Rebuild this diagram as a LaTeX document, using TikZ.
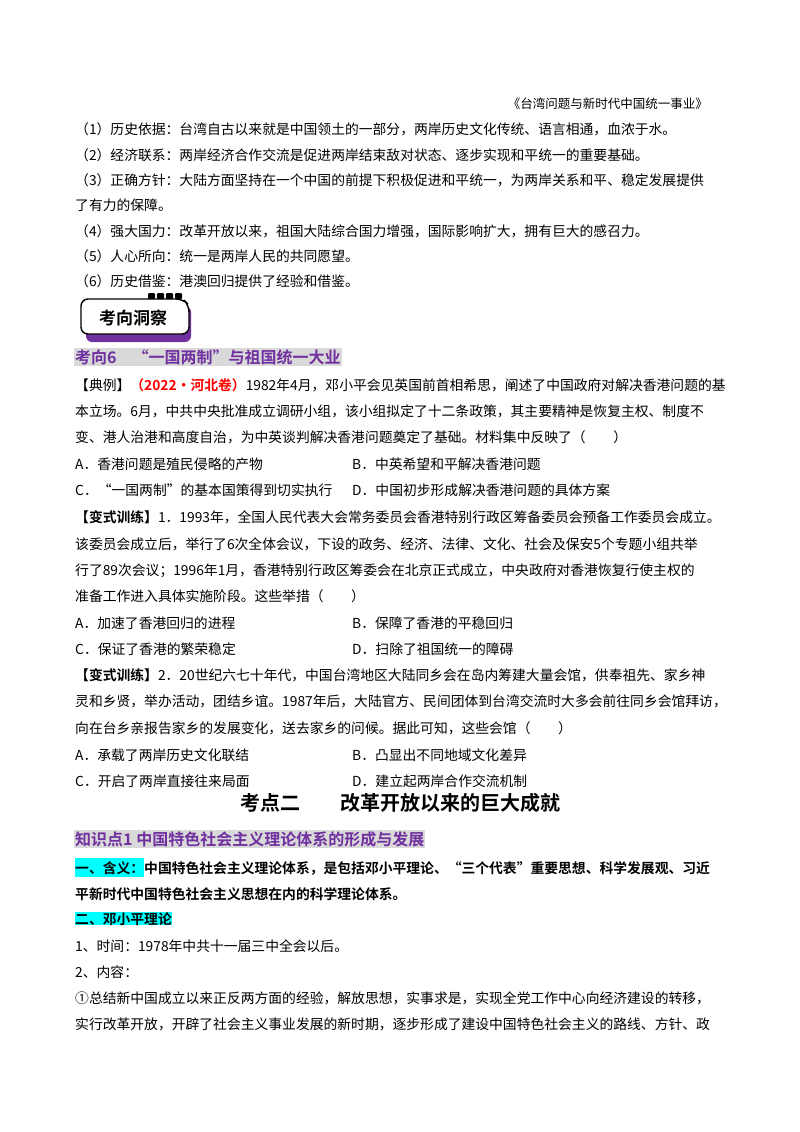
\documentclass[tikz,border=0pt]{standalone}
\usepackage{fontspec}
\newfontfamily\cjk{Noto Sans CJK SC}[BoldFont={Noto Sans CJK SC Bold}]
\definecolor{pur}{HTML}{7030A0}
\definecolor{hl}{HTML}{D9D9D9}
\definecolor{cy}{HTML}{00FFFF}
\begin{document}
\begin{tikzpicture}[x=1pt,y=-1pt,
 t/.style={anchor=base west,inner sep=0pt,font=\cjk\fontsize{13.8}{16}\selectfont},
 b/.style={t,font=\cjk\bfseries\fontsize{13.8}{16}\selectfont},
 h/.style={anchor=base west,inner sep=1pt,fill=hl,text=pur,font=\cjk\bfseries\fontsize{16}{18}\selectfont}]
\useasboundingbox (0,0) rectangle (800,1132);
\fill[white] (0,0) rectangle (800,1132);
\node[t,anchor=base east,font=\cjk\fontsize{12.5}{14}\selectfont] (hd) at (708,108) {《台湾问题与新时代中国统一事业》};
\node[t] (l1) at (75,134) {（1）历史依据：台湾自古以来就是中国领土的一部分，两岸历史文化传统、语言相通，血浓于水。};
\node[t] (l2) at (75,160) {（2）经济联系：两岸经济合作交流是促进两岸结束敌对状态、逐步实现和平统一的重要基础。};
\node[t] (l3) at (75,185) {（3）正确方针：大陆方面坚持在一个中国的前提下积极促进和平统一，为两岸关系和平、稳定发展提供};
\node[t] (l4) at (75,210) {了有力的保障。};
\node[t] (l5) at (75,236) {（4）强大国力：改革开放以来，祖国大陆综合国力增强，国际影响扩大，拥有巨大的感召力。};
\node[t] (l6) at (75,261) {（5）人心所向：统一是两岸人民的共同愿望。};
\node[t] (l7) at (75,286) {（6）历史借鉴：港澳回归提供了经验和借鉴。};
% badge
\fill[pur,rounded corners=6pt] (86,306) rectangle (191,342);
\draw[line width=1.4pt,fill=white,rounded corners=7pt] (81,299) -- (183,299) -- (189,305) -- (189,334) -- (81,334) -- cycle;
\foreach \i in {0,1,2,3} \fill[rounded corners=1pt] (148+\i*9,293) rectangle ++(7,6);
\node[anchor=center,inner sep=0pt,font=\cjk\bfseries\fontsize{17}{19}\selectfont] (bd) at (133,318) {考向洞察};
\node[h] (k6) at (74,363) {考向6\quad “一国两制”与祖国统一大业};
\node[t] (e1) at (75,390) {【典例】\textcolor{red}{\bfseries（2022·河北卷）}1982年4月，邓小平会见英国前首相希思，阐述了中国政府对解决香港问题的基};
\node[t] (e2) at (75,416) {本立场。6月，中共中央批准成立调研小组，该小组拟定了十二条政策，其主要精神是恢复主权、制度不};
\node[t] (e3) at (75,442) {变、港人治港和高度自治，为中英谈判解决香港问题奠定了基础。材料集中反映了（\qquad）};
\node[t] (e4) at (75,469) {A．香港问题是殖民侵略的产物};
\node[t] (e5) at (352,469) {B．中英希望和平解决香港问题};
\node[t] (e6) at (75,495) {C．“一国两制”的基本国策得到切实执行};
\node[t] (e7) at (352,495) {D．中国初步形成解决香港问题的具体方案};
\node[t] (f1) at (75,522) {\bfseries【变式训练】\mdseries 1．1993年，全国人民代表大会常务委员会香港特别行政区筹备委员会预备工作委员会成立。};
\node[t] (f2) at (75,549) {该委员会成立后，举行了6次全体会议，下设的政务、经济、法律、文化、社会及保安5个专题小组共举};
\node[t] (f3) at (75,575) {行了89次会议；1996年1月，香港特别行政区筹委会在北京正式成立，中央政府对香港恢复行使主权的};
\node[t] (f4) at (75,601) {准备工作进入具体实施阶段。这些举措（\qquad）};
\node[t] (f5) at (75,628) {A．加速了香港回归的进程};
\node[t] (f6) at (352,628) {B．保障了香港的平稳回归};
\node[t] (f7) at (75,654) {C．保证了香港的繁荣稳定};
\node[t] (f8) at (352,654) {D．扫除了祖国统一的障碍};
\node[t] (g1) at (75,680) {\bfseries【变式训练】\mdseries 2．20世纪六七十年代，中国台湾地区大陆同乡会在岛内筹建大量会馆，供奉祖先、家乡神};
\node[t] (g2) at (75,706) {灵和乡贤，举办活动，团结乡谊。1987年后，大陆官方、民间团体到台湾交流时大多会前往同乡会馆拜访，};
\node[t] (g3) at (75,733) {向在台乡亲报告家乡的发展变化，送去家乡的问候。据此可知，这些会馆（\qquad）};
\node[t] (g4) at (75,760) {A．承载了两岸历史文化联结};
\node[t] (g5) at (352,760) {B．凸显出不同地域文化差异};
\node[t] (g6) at (75,786) {C．开启了两岸直接往来局面};
\node[t] (g7) at (352,786) {D．建立起两岸合作交流机制};
\node[anchor=base,inner sep=0pt,font=\cjk\bfseries\fontsize{20}{22}\selectfont] (kd) at (400,810) {考点二\qquad 改革开放以来的巨大成就};
\node[h] (z1) at (74,845) {知识点1\ 中国特色社会主义理论体系的形成与发展};
\node[b] (m1) at (75,873) {\colorbox{cy}{\hspace{-3pt}一、含义：\hspace{-3pt}}中国特色社会主义理论体系，是包括邓小平理论、“三个代表”重要思想、科学发展观、习近};
\node[b] (m2) at (75,899) {平新时代中国特色社会主义思想在内的科学理论体系。};
\node[b,fill=cy] (m3) at (75,924) {二、邓小平理论};
\node[t] (m4) at (75,951) {1、时间：1978年中共十一届三中全会以后。};
\node[t] (m5) at (75,977) {2、内容：};
\node[t] (m6) at (75,1003) {①总结新中国成立以来正反两方面的经验，解放思想，实事求是，实现全党工作中心向经济建设的转移，};
\node[t] (m7) at (75,1029) {实行改革开放，开辟了社会主义事业发展的新时期，逐步形成了建设中国特色社会主义的路线、方针、政};
\end{tikzpicture}
\end{document}
